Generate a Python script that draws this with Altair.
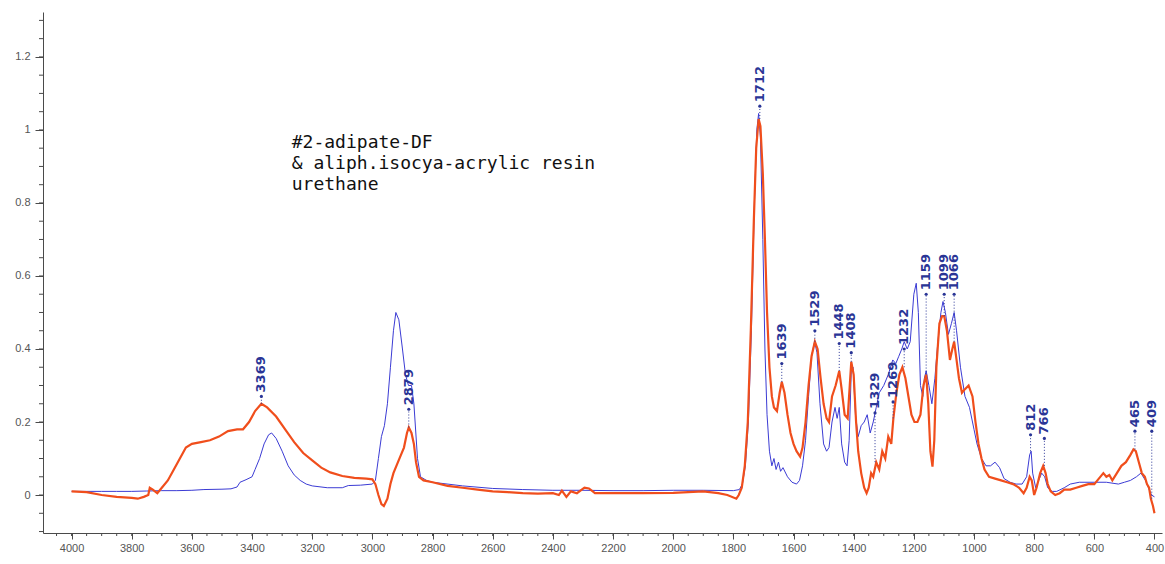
import altair as alt
import pandas as pd

# --- spectrum A (thin blue trace) ---
blue_wn = [4000, 3950, 3900, 3850, 3800, 3750, 3700, 3650, 3600, 3560, 3500, 3470, 3450, 3440, 3420,
           3400, 3390, 3375, 3360, 3345, 3335, 3320, 3300, 3280, 3260, 3240, 3220, 3200, 3150, 3100,
           3080, 3040, 3000, 2990, 2980, 2970, 2960, 2950, 2940, 2930, 2922, 2912, 2900, 2890, 2880,
           2870, 2862, 2850, 2840, 2820, 2800, 2700, 2600, 2500, 2400, 2300, 2200, 2100, 2000, 1900,
           1800, 1780, 1770, 1760, 1750, 1740, 1730, 1722, 1716, 1710, 1702, 1695, 1688, 1680, 1672,
           1665, 1658, 1650, 1643, 1635, 1620, 1605, 1590, 1580, 1570, 1560, 1550, 1540, 1530, 1522,
           1512, 1500, 1490, 1482, 1472, 1462, 1455, 1448, 1440, 1430, 1422, 1415, 1408, 1402, 1394,
           1385, 1375, 1365, 1355, 1345, 1335, 1325, 1315, 1300, 1285, 1270, 1260, 1250, 1240, 1232,
           1222, 1212, 1200, 1192, 1185, 1178, 1170, 1165, 1159, 1150, 1140, 1130, 1120, 1110, 1103,
           1095, 1085, 1075, 1066, 1058, 1045, 1030, 1015, 1000, 990, 975, 960, 945, 930, 915,
           900, 880, 860, 840, 825, 815, 810, 805, 795, 785, 775, 765, 755, 740, 725,
           700, 680, 650, 600, 560, 520, 500, 480, 460, 445, 430, 420, 410, 400]
blue_abs = [0.010, 0.010, 0.010, 0.010, 0.010, 0.011, 0.012, 0.012, 0.013, 0.015, 0.016, 0.017, 0.022, 0.035, 0.042,
            0.050, 0.070, 0.100, 0.140, 0.165, 0.170, 0.155, 0.120, 0.080, 0.055, 0.040, 0.030, 0.025, 0.020, 0.020,
            0.026, 0.027, 0.030, 0.040, 0.100, 0.160, 0.190, 0.250, 0.350, 0.450, 0.500, 0.480, 0.400, 0.330, 0.300,
            0.300, 0.250, 0.100, 0.050, 0.040, 0.035, 0.025, 0.018, 0.015, 0.013, 0.013, 0.012, 0.012, 0.013, 0.013,
            0.012, 0.015, 0.030, 0.080, 0.200, 0.450, 0.800, 1.000, 1.045, 0.980, 0.700, 0.400, 0.220, 0.120, 0.080,
            0.100, 0.070, 0.090, 0.065, 0.075, 0.050, 0.035, 0.030, 0.040, 0.080, 0.150, 0.270, 0.380, 0.420, 0.390,
            0.250, 0.140, 0.120, 0.130, 0.200, 0.240, 0.210, 0.240, 0.140, 0.090, 0.080, 0.150, 0.340, 0.350, 0.220,
            0.160, 0.190, 0.200, 0.220, 0.170, 0.200, 0.240, 0.280, 0.300, 0.330, 0.370, 0.360, 0.380, 0.400, 0.420,
            0.400, 0.420, 0.550, 0.580, 0.500, 0.300, 0.270, 0.320, 0.340, 0.300, 0.250, 0.320, 0.420, 0.500, 0.530,
            0.500, 0.440, 0.470, 0.500, 0.450, 0.350, 0.270, 0.240, 0.180, 0.140, 0.100, 0.080, 0.080, 0.090, 0.075,
            0.045, 0.035, 0.030, 0.030, 0.050, 0.110, 0.120, 0.060, 0.020, 0.040, 0.060, 0.050, 0.020, 0.010, 0.010,
            0.020, 0.030, 0.035, 0.035, 0.035, 0.030, 0.035, 0.040, 0.050, 0.060, 0.040, 0.020, 0.000, -0.005]

# --- spectrum B (thick orange trace) ---
orange_wn = [4000, 3950, 3900, 3850, 3800, 3780, 3760, 3745, 3740, 3730, 3715, 3700, 3680, 3660, 3640,
             3620, 3600, 3570, 3540, 3510, 3480, 3450, 3430, 3410, 3390, 3369, 3350, 3320, 3290, 3260,
             3230, 3200, 3170, 3140, 3100, 3060, 3020, 3000, 2990, 2980, 2970, 2962, 2950, 2940, 2930,
             2915, 2905, 2895, 2885, 2879, 2870, 2862, 2855, 2845, 2830, 2800, 2750, 2700, 2650, 2600,
             2550, 2500, 2450, 2400, 2380, 2370, 2355, 2340, 2320, 2295, 2280, 2260, 2200, 2100, 2000,
             1950, 1900, 1850, 1820, 1790, 1782, 1772, 1762, 1752, 1742, 1732, 1724, 1716, 1710, 1702,
             1695, 1688, 1680, 1672, 1665, 1655, 1646, 1639, 1630, 1620, 1610, 1600, 1590, 1578, 1570,
             1560, 1550, 1540, 1529, 1520, 1510, 1500, 1490, 1482, 1472, 1460, 1448, 1440, 1430, 1420,
             1413, 1408, 1400, 1392, 1385, 1375, 1365, 1357, 1350, 1342, 1335, 1325, 1315, 1305, 1295,
             1285, 1275, 1268, 1258, 1248, 1238, 1228, 1218, 1208, 1198, 1188, 1178, 1168, 1159, 1152,
             1145, 1138, 1132, 1125, 1115, 1106, 1099, 1090, 1080, 1072, 1066, 1058, 1050, 1040, 1030,
             1018, 1005, 995, 985, 975, 965, 950, 930, 910, 890, 870, 850, 835, 825, 815,
             808, 800, 792, 780, 770, 762, 755, 745, 730, 715, 700, 680, 660, 640, 620,
             600, 585, 570, 560, 550, 540, 525, 510, 495, 480, 470, 462, 452, 442, 432,
             425, 418, 412, 405, 400]
orange_abs = [0.010, 0.008, 0.000, -0.005, -0.008, -0.010, -0.005, 0.000, 0.020, 0.015, 0.005, 0.020, 0.040, 0.070, 0.100,
              0.130, 0.140, 0.145, 0.150, 0.160, 0.175, 0.180, 0.180, 0.200, 0.230, 0.250, 0.240, 0.215, 0.180, 0.145,
              0.115, 0.095, 0.075, 0.062, 0.052, 0.047, 0.045, 0.043, 0.030, 0.000, -0.025, -0.030, -0.010, 0.030, 0.060,
              0.090, 0.110, 0.130, 0.170, 0.185, 0.170, 0.140, 0.090, 0.050, 0.040, 0.035, 0.025, 0.020, 0.015, 0.010,
              0.008, 0.005, 0.004, 0.005, 0.000, 0.012, -0.005, 0.010, 0.005, 0.020, 0.018, 0.005, 0.005, 0.005, 0.006,
              0.008, 0.010, 0.005, 0.000, -0.010, 0.000, 0.020, 0.080, 0.200, 0.450, 0.750, 0.950, 1.030, 1.010, 0.880,
              0.700, 0.500, 0.350, 0.270, 0.240, 0.230, 0.280, 0.310, 0.280, 0.220, 0.170, 0.140, 0.120, 0.105, 0.130,
              0.200, 0.300, 0.380, 0.420, 0.400, 0.320, 0.250, 0.210, 0.200, 0.270, 0.300, 0.340, 0.290, 0.220, 0.210,
              0.300, 0.365, 0.330, 0.200, 0.120, 0.060, 0.020, 0.005, 0.020, 0.060, 0.050, 0.090, 0.070, 0.120, 0.100,
              0.160, 0.140, 0.210, 0.280, 0.330, 0.350, 0.320, 0.270, 0.220, 0.200, 0.200, 0.220, 0.300, 0.330, 0.250,
              0.120, 0.078, 0.150, 0.350, 0.470, 0.490, 0.490, 0.450, 0.370, 0.400, 0.420, 0.370, 0.320, 0.280, 0.290,
              0.300, 0.270, 0.200, 0.140, 0.100, 0.070, 0.050, 0.045, 0.040, 0.035, 0.030, 0.020, 0.005, 0.020, 0.050,
              0.040, 0.000, 0.020, 0.060, 0.080, 0.060, 0.030, 0.010, 0.000, 0.005, 0.015, 0.015, 0.020, 0.025, 0.030,
              0.030, 0.045, 0.060, 0.050, 0.055, 0.040, 0.060, 0.080, 0.090, 0.110, 0.125, 0.120, 0.090, 0.060, 0.050,
              0.030, 0.020, -0.010, -0.030, -0.050]

# --- peak picks: wavenumber, curve height at the peak, height of the label marker ---
peak_wn = [3369, 2879, 1712, 1639, 1529, 1448, 1408, 1329, 1269, 1232, 1159, 1099, 1066, 812, 766, 465, 409]
peak_abs = [0.25, 0.185, 1.03, 0.31, 0.42, 0.34, 0.365, 0.09, 0.21, 0.35, 0.33, 0.49, 0.42, 0.12, 0.08, 0.125, -0.01]
label_abs = [0.27, 0.235, 1.065, 0.36, 0.45, 0.415, 0.39, 0.225, 0.255, 0.40, 0.55, 0.55, 0.55, 0.165, 0.155, 0.175, 0.175]

note_lines = ["#2-adipate-DF", "& aliph.isocya-acrylic resin", "urethane"]

x_ticks = [4000, 3800, 3600, 3400, 3200, 3000, 2800, 2600, 2400, 2200, 2000,
           1800, 1600, 1400, 1200, 1000, 800, 600, 400]
y_ticks = [0, 0.2, 0.4, 0.6, 0.8, 1, 1.2]
x_minor = list(range(400, 4051, 50))
y_minor = [round(-0.1 + 0.05 * i, 2) for i in range(29)]

X_DOMAIN = [375, 4095]
Y_DOMAIN = [-0.104, 1.323]
W, H = 1119, 521

BLUE = "#3b3bd4"
ORANGE = "#f04e1c"
NAVY = "#2a3596"
AXIS_GREY = "#4a4a4a"

blue_df = pd.DataFrame({"wn": blue_wn, "abs": blue_abs})
orange_df = pd.DataFrame({"wn": orange_wn, "abs": orange_abs})
peaks_df = pd.DataFrame({"wn": peak_wn, "peak": peak_abs, "lab": label_abs,
                         "txt": [str(v) for v in peak_wn]})

x_scale = alt.Scale(domain=X_DOMAIN, reverse=True, nice=False, zero=False)
y_scale = alt.Scale(domain=Y_DOMAIN, nice=False, zero=False)

x_axis = alt.Axis(values=x_ticks, format="d", grid=False, title=None, tickSize=6,
                  labelPadding=3, labelFontSize=11, labelFont="Liberation Sans",
                  labelColor="#555555", domainColor=AXIS_GREY, tickColor=AXIS_GREY,
                  labelFlush=False)
y_axis = alt.Axis(values=y_ticks, format="~g", grid=False, title=None, tickSize=8,
                  labelPadding=5, labelFontSize=11, labelFont="Liberation Sans",
                  labelColor="#555555", domainColor=AXIS_GREY, tickColor=AXIS_GREY,
                  labelFlush=False)

blue_line = alt.Chart(blue_df).mark_line(color=BLUE, strokeWidth=1, clip=True).encode(
    x=alt.X("wn:Q", scale=x_scale, axis=x_axis),
    y=alt.Y("abs:Q", scale=y_scale, axis=y_axis),
)

orange_line = alt.Chart(orange_df).mark_line(color=ORANGE, strokeWidth=2.2, clip=True).encode(
    x=alt.X("wn:Q", scale=x_scale),
    y=alt.Y("abs:Q", scale=y_scale),
)

# minor ticks on both axes
x_minor_ticks = alt.Chart(pd.DataFrame({"wn": x_minor})).mark_rule(
    color=AXIS_GREY, strokeWidth=1).encode(
    x=alt.X("wn:Q", scale=x_scale), y=alt.value(H), y2=alt.value(H + 3))
y_minor_ticks = alt.Chart(pd.DataFrame({"v": y_minor})).mark_rule(
    color=AXIS_GREY, strokeWidth=1).encode(
    y=alt.Y("v:Q", scale=y_scale), x=alt.value(0), x2=alt.value(-4))

# peak annotations: dotted leader, marker dot, vertical wavenumber label
leaders = alt.Chart(peaks_df).mark_rule(color=NAVY, strokeWidth=1, strokeDash=[1, 2]).encode(
    x=alt.X("wn:Q", scale=x_scale), y=alt.Y("peak:Q", scale=y_scale), y2="lab:Q")
dots = alt.Chart(peaks_df).mark_circle(color=NAVY, size=10, opacity=1).encode(
    x=alt.X("wn:Q", scale=x_scale), y=alt.Y("lab:Q", scale=y_scale))
labels = alt.Chart(peaks_df).mark_text(
    color=NAVY, angle=270, align="left", baseline="middle", dx=4,
    font="DejaVu Sans", fontSize=13, fontWeight="bold").encode(
    x=alt.X("wn:Q", scale=x_scale), y=alt.Y("lab:Q", scale=y_scale), text="txt:N")

note = alt.Chart(pd.DataFrame({"wn": [3268], "v": [0.99]})).mark_text(
    align="left", baseline="top", font="DejaVu Sans Mono", fontSize=18,
    lineHeight=21, color="#111111").encode(
    x=alt.X("wn:Q", scale=x_scale), y=alt.Y("v:Q", scale=y_scale),
    text=alt.value(note_lines))

chart = alt.layer(
    x_minor_ticks, y_minor_ticks, blue_line, orange_line, leaders, dots, labels, note
).properties(
    width=W, height=H,
    padding={"left": 43, "top": 12, "right": 3, "bottom": 31},
    autosize=alt.AutoSizeParams(type="none"),
    background="white",
).configure_view(stroke=None)

chart.save("out.html", embed_options={"renderer": "svg", "actions": False})
